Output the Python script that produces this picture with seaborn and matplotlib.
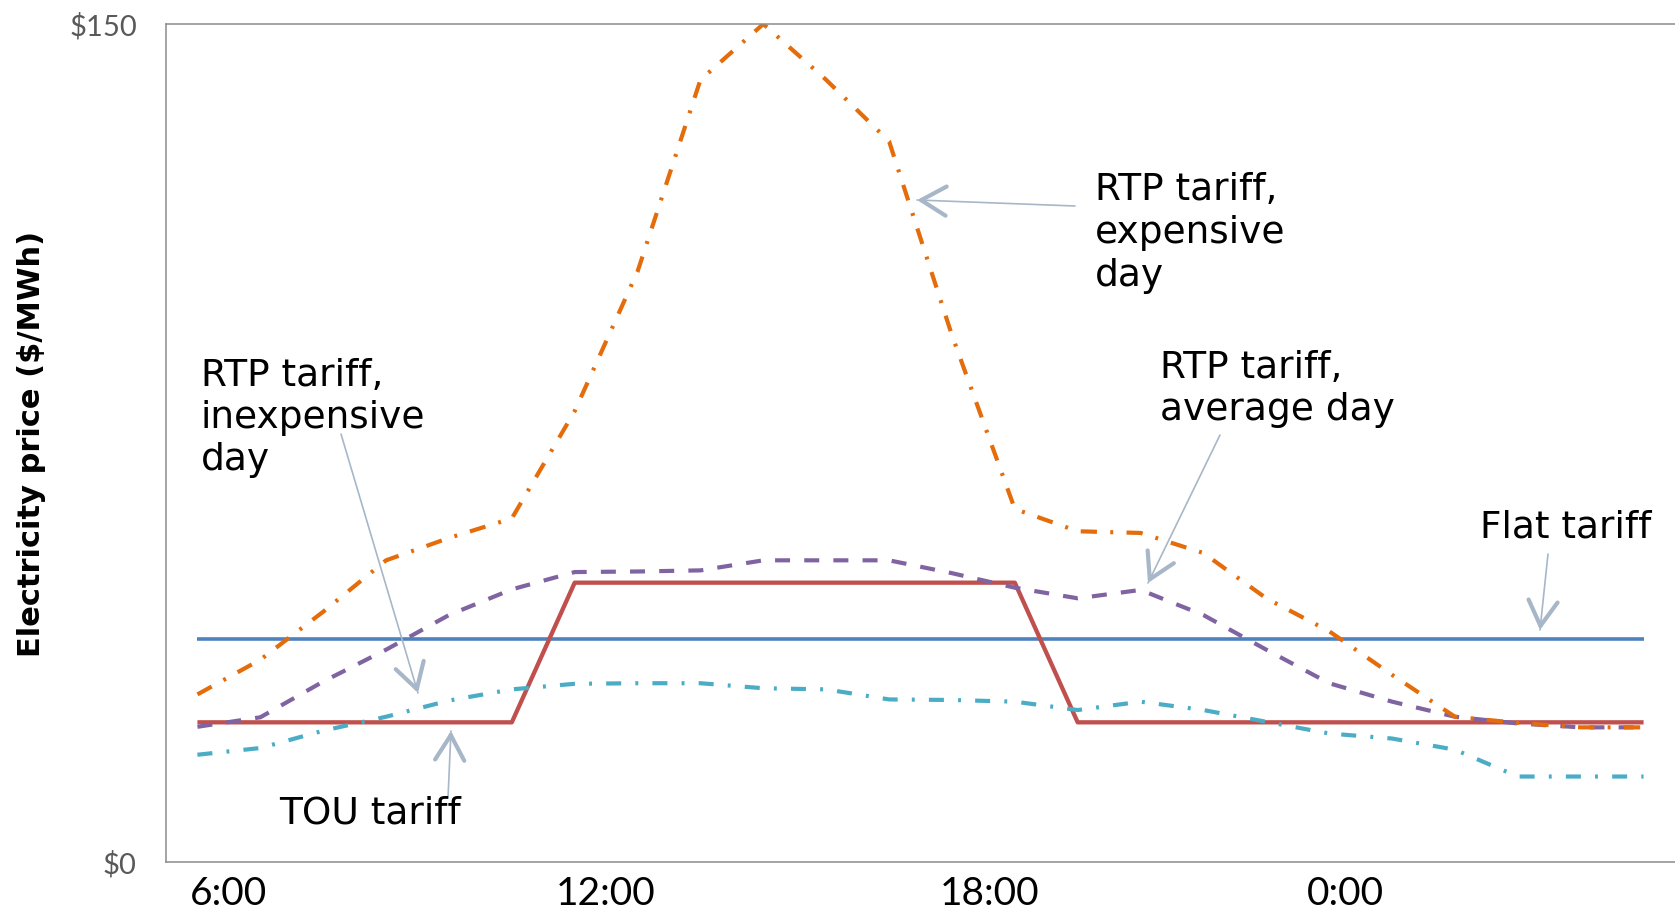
import numpy as np
import pandas as pd
import matplotlib
matplotlib.use("Agg")
import matplotlib.pyplot as plt
import seaborn as sns

# ---------------- data ----------------
hours = ["6:00", "7:00", "8:00", "9:00", "10:00", "11:00", "12:00", "13:00",
         "14:00", "15:00", "16:00", "17:00", "18:00", "19:00", "20:00", "21:00",
         "22:00", "23:00", "0:00", "1:00", "2:00", "3:00", "4:00", "5:00"]

flat_tariff = [40, 40, 40, 40, 40, 40, 40, 40, 40, 40, 40, 40,
               40, 40, 40, 40, 40, 40, 40, 40, 40, 40, 40, 40]
tou_tariff = [25, 25, 25, 25, 25, 25, 50, 50, 50, 50, 50, 50,
              50, 50, 25, 25, 25, 25, 25, 25, 25, 25, 25, 25]
rtp_inexpensive = [19.2, 20.4, 23.5, 26.0, 28.9, 30.9, 31.9, 32.0, 32.0, 31.1, 30.9, 29.1,
                   29.0, 28.7, 27.2, 28.7, 27.2, 25.1, 23.0, 22.1, 20.1, 15.3, 15.3, 15.3]
rtp_average = [24.2, 25.9, 32.3, 38.0, 44.2, 48.8, 51.9, 52.0, 52.2, 54.0, 54.0, 54.0,
               51.7, 49.1, 47.2, 48.7, 44.2, 38.0, 32.0, 28.7, 26.0, 24.8, 24.1, 24.1]
rtp_expensive = [30.0, 36.2, 44.8, 54.0, 58.0, 61.5, 80.7, 105.7, 140.0, 150.0, 140.0, 129.0,
                 94.3, 63.2, 59.2, 58.9, 55.3, 47.2, 41.3, 33.5, 26.0, 24.9, 24.1, 24.1]

xtick_labels = ["6:00", "12:00", "18:00", "0:00"]
ytick_values = [0, 150]
ytick_labels = ["$0", "$150"]
ylabel = "Electricity price ($/MWh)"

annotations = [
    (["RTP tariff,", "expensive", "day"], "expensive"),
    (["RTP tariff,", "inexpensive", "day"], "inexpensive"),
    (["RTP tariff,", "average day"], "average"),
    (["Flat tariff"], "flat"),
    (["TOU tariff"], "tou"),
]

# ---------------- style ----------------
sns.set_theme(style="white")
plt.rcParams["font.family"] = ["DejaVu Sans"]

W, H = 1675, 915
fig = plt.figure(figsize=(W / 100, H / 100), dpi=100)
ax = fig.add_axes([166 / W, (H - 862) / H, (W - 166) / W, (862 - 24) / H])

xpos = np.arange(len(hours))
df = pd.DataFrame({
    "pos": xpos, "hour": hours,
    "Flat tariff": flat_tariff, "TOU tariff": tou_tariff,
    "RTP inexpensive": rtp_inexpensive, "RTP average": rtp_average,
    "RTP expensive": rtp_expensive,
})

series_style = [
    ("Flat tariff", "#4F81BD", 2.6, "-"),
    ("TOU tariff", "#C0504D", 3.1, "-"),
    ("RTP inexpensive", "#4BACC6", 3.0, (0, (3.6, 3.4, 0.7, 3.4))),
    ("RTP average", "#8064A2", 3.0, (0, (3.6, 3.4))),
    ("RTP expensive", "#E46C0A", 3.0, (0, (3.9, 3.2, 0.7, 3.2))),
]
for name, col, lw, ls in series_style:
    sns.lineplot(data=df, x="pos", y=name, ax=ax, color=col, linewidth=lw,
                 linestyle=ls, solid_capstyle="butt", dash_capstyle="butt",
                 solid_joinstyle="round")

ax.set_xlim(-0.5, len(hours) - 0.5)
ax.set_ylim(0, 150)
ax.set_xlabel("")
ax.set_ylabel("")

# x ticks placed between categories like the original
ax.set_xticks([0.5, 6.5, 12.6, 18.26])
ax.set_xticklabels(xtick_labels, fontsize=28, family="Lato", color="black")
ax.set_yticks(ytick_values)
ax.set_yticklabels(ytick_labels, fontsize=21, family="Lato", color="#595959")
ax.tick_params(axis="x", length=0, pad=10)
ax.tick_params(axis="y", length=0, pad=21)

for side in ["left", "bottom", "top"]:
    ax.spines[side].set_visible(True)
    ax.spines[side].set_color("#8C8C8C")
    ax.spines[side].set_linewidth(1.1)
ax.spines["right"].set_visible(False)
ax.grid(False)

fig.text(32 / W, 1 - 443.5 / H, ylabel, rotation=90, ha="center", va="center",
         fontsize=22, fontweight="bold", color="black")

# ---------------- annotations (pixel layout) ----------------
text_layout = {
    "expensive": (1095, [200, 243, 286]),
    "inexpensive": (201, [386, 428, 470]),
    "average": (1160, [378, 420]),
    "flat": (1480, [537]),
    "tou": (279, [823]),
}
arrow_layout = {
    "expensive": ((1075, 206), (917, 200)),
    "inexpensive": ((341, 434), (418, 693)),
    "average": ((1220, 435), (1148, 583)),
    "flat": ((1548, 554), (1540, 630)),
    "tou": ((448, 798), (451, 731)),
}
arrow_col = "#A7B7C8"

for lines, key in annotations:
    x0, baselines = text_layout[key]
    for line, yb in zip(lines, baselines):
        fig.text(x0 / W, 1 - yb / H, line, ha="left", va="baseline",
                 fontsize=27, color="black")
    (tx, ty), (hx, hy) = arrow_layout[key]
    ax.annotate("", xy=(hx, H - hy), xycoords="figure pixels",
                xytext=(tx, H - ty), textcoords="figure pixels",
                arrowprops=dict(arrowstyle="-", color=arrow_col, lw=1.2,
                                shrinkA=0, shrinkB=0))
    # thicker open head
    d = np.array([hx - tx, hy - ty], dtype=float)
    d /= np.hypot(*d)
    sx, sy = hx - 6 * d[0], hy - 6 * d[1]
    ax.annotate("", xy=(hx, H - hy), xycoords="figure pixels",
                xytext=(sx, H - sy), textcoords="figure pixels",
                arrowprops=dict(arrowstyle="->, head_length=0.6, head_width=0.35",
                                color=arrow_col, lw=3.0, mutation_scale=30,
                                shrinkA=0, shrinkB=0, joinstyle="round",
                                capstyle="round"))

fig.savefig("out.png", dpi=100)
